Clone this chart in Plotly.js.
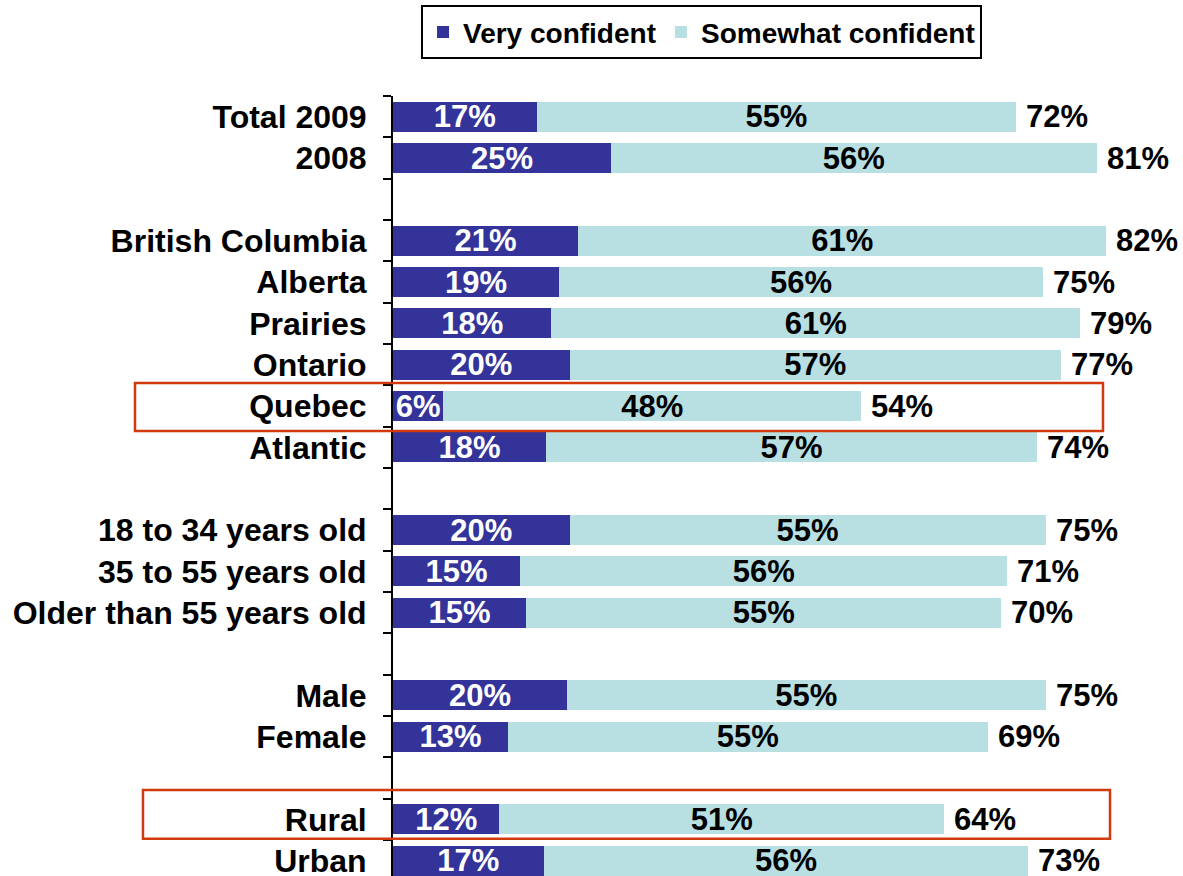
<!DOCTYPE html>
<html>
<head>
<meta charset="utf-8">
<script src="https://cdn.plot.ly/plotly-3.0.1.min.js"></script>
<style>html,body{margin:0;padding:0;background:#fff;}#chart{width:1183px;height:876px;}</style>
</head>
<body>
<div id="chart"></div>
<script>
const categories = ['Total 2009','2008',' ','British Columbia','Alberta','Prairies','Ontario','Quebec','Atlantic','  ','18 to 34 years old','35 to 55 years old','Older than 55 years old','   ','Male','Female','    ','Rural','Urban'];
const veryConfident =     [16.6, 25.2, null, 21.4, 19.2, 18.3, 20.4, 5.8, 17.7, null, 20.4, 14.7, 15.4, null, 20.1, 13.3, null, 12.3, 17.4];
const somewhatConfident = [55.4, 56.1, null, 61.0, 55.9, 61.1, 56.8, 48.3, 56.7, null, 55.0, 56.3, 54.9, null, 55.3, 55.4, null, 51.4, 56.0];
const seriesNames = ['Very confident', 'Somewhat confident'];
const highlighted = ['Quebec', 'Rural'];

const totals = veryConfident.map((v, i) => v === null ? null : v + somewhatConfident[i]);
const pct = arr => arr.map(v => v === null ? '' : Math.round(v) + '%');

const FONT = 'Arial, "Liberation Sans", sans-serif';
const DARK = '#333399';
const LIGHT = '#B8E0E3';

const traces = [
  {
    type: 'bar', orientation: 'h', name: seriesNames[0],
    y: categories, x: veryConfident,
    marker: {color: DARK},
    text: pct(veryConfident), textposition: 'inside', insidetextanchor: 'middle',
    constraintext: 'none', cliponaxis: false,
    textfont: {family: FONT, size: 31, color: '#ffffff', weight: 'bold'},
    hoverinfo: 'skip'
  },
  {
    type: 'bar', orientation: 'h', name: seriesNames[1],
    y: categories, x: somewhatConfident,
    marker: {color: LIGHT},
    text: pct(somewhatConfident), textposition: 'inside', insidetextanchor: 'middle',
    constraintext: 'none', cliponaxis: false,
    textfont: {family: FONT, size: 31, color: '#000000', weight: 'bold'},
    hoverinfo: 'skip'
  }
];

// total labels at the end of each stacked bar (y given as category index)
const totalLabels = pct(totals);
const annotations = [];
categories.forEach((c, i) => {
  if (totals[i] === null) return;
  annotations.push({
    xref: 'x', yref: 'y', x: totals[i], y: i,
    text: totalLabels[i], showarrow: false,
    xanchor: 'left', yanchor: 'middle', xshift: 8,
    font: {family: FONT, size: 31, color: '#000000', weight: 'bold'}
  });
});

const catIndex = c => categories.indexOf(c);
const shapes = [
  {type: 'rect', xref: 'paper', yref: 'y', x0: -0.3266, x1: 0.8987,
   y0: catIndex(highlighted[0]) - 0.555, y1: catIndex(highlighted[0]) + 0.606,
   line: {color: '#D03A0C', width: 2.5}},
  {type: 'rect', xref: 'paper', yref: 'y', x0: -0.3165, x1: 0.9076,
   y0: catIndex(highlighted[1]) - 0.71, y1: catIndex(highlighted[1]) + 0.47,
   line: {color: '#D03A0C', width: 2.5}}
];

const layout = {
  width: 1183, height: 876,
  margin: {l: 393, r: 0, t: 96, b: 0},
  paper_bgcolor: '#ffffff', plot_bgcolor: '#ffffff',
  barmode: 'stack', bargap: 0.27,
  showlegend: true,
  legend: {
    orientation: 'h', xref: 'container', yref: 'container',
    x: 0.593, xanchor: 'center', y: 0.994, yanchor: 'top',
    bordercolor: '#000000', borderwidth: 2, bgcolor: '#ffffff',
    font: {family: FONT, size: 28, color: '#000000', weight: 'bold'},
    traceorder: 'normal', itemclick: false
  },
  xaxis: {visible: false, range: [0, 91.28], fixedrange: true},
  yaxis: {
    type: 'category', categoryorder: 'array', categoryarray: categories,
    range: [18.37, -0.5], fixedrange: true,
    showline: true, linecolor: '#000000', linewidth: 2,
    ticks: 'outside', tickson: 'boundaries', ticklen: 8, tickwidth: 2, tickcolor: '#000000',
    ticklabelstandoff: 18,
    showgrid: false, zeroline: false,
    tickfont: {family: FONT, size: 32, color: '#000000', weight: 'bold'}
  },
  annotations: annotations,
  shapes: shapes
};

Plotly.newPlot('chart', traces, layout, {displayModeBar: false, staticPlot: true});
</script>
</body>
</html>
